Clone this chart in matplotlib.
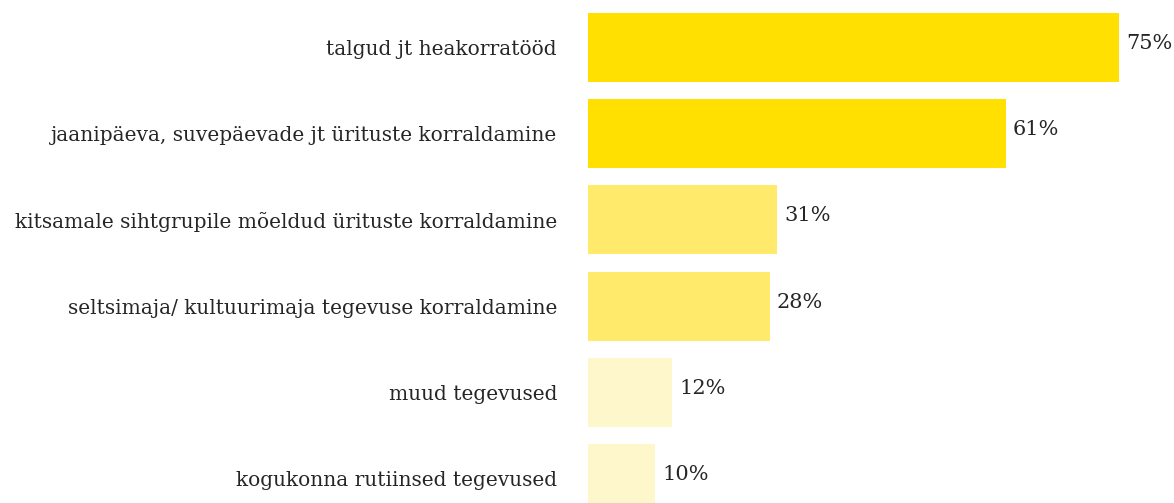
import matplotlib
matplotlib.use("Agg")
import matplotlib.pyplot as plt

# activities, top to bottom
categories = [
    "talgud jt heakorratööd",
    "jaanipäeva, suvepäevade jt ürituste korraldamine",
    "kitsamale sihtgrupile mõeldud ürituste korraldamine",
    "seltsimaja/ kultuurimaja tegevuse korraldamine",
    "muud tegevused",
    "kogukonna rutiinsed tegevused",
]
# bar lengths as drawn in the picture (%)
values = [75, 59, 26.7, 25.7, 11.9, 9.5]
# printed labels
value_labels = ["75%", "61%", "31%", "28%", "12%", "10%"]
colors = ["#FFE000", "#FFE000", "#FFEA6B", "#FFEA6B", "#FFF7CC", "#FFF7CC"]

plt.rcParams["font.family"] = ["DejaVu Serif"]
text_color = "#262626"

fig = plt.figure(figsize=(11.74, 5.03), dpi=100)
ax = fig.add_axes([588 / 1174, 0, 586 / 1174, 1])

y = list(range(len(categories)))
bars = ax.barh(y, values, height=0.8, color=colors)

for bar, lab in zip(bars, value_labels):
    ax.text(bar.get_width() + 1.0, bar.get_y() + bar.get_height() / 2 - 0.07, lab,
            va="center_baseline", ha="left", fontsize=15, color=text_color)

ax.set_xlim(0, 586 / 7.08)
ax.set_ylim(5.284, -0.551)
ax.set_yticks(y)
ax.set_yticklabels(categories, fontsize=14.5, color=text_color,
                   va="center_baseline")
ax.tick_params(axis="y", length=0, pad=22.3)
ax.set_xticks([])
for s in ax.spines.values():
    s.set_visible(False)

fig.savefig("out.png", dpi=100)
